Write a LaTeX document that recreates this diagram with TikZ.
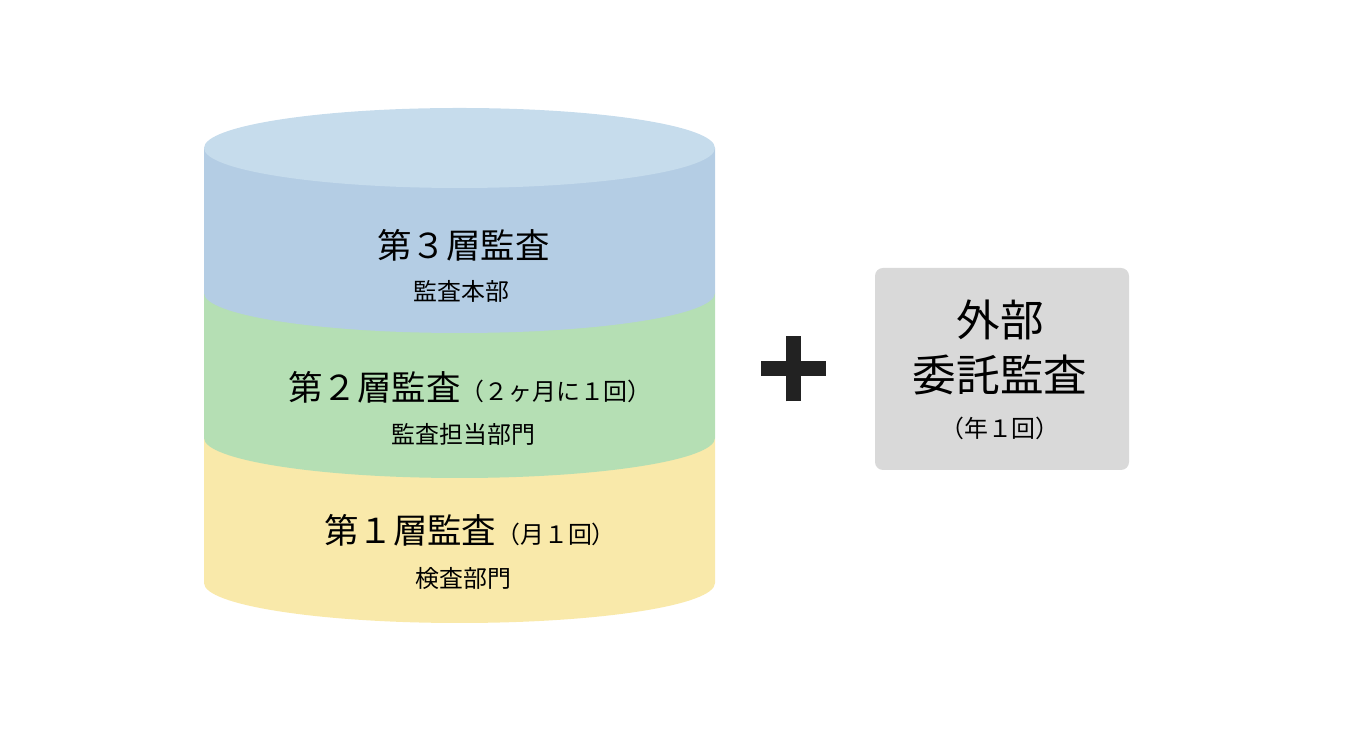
\documentclass[tikz,border=0pt]{standalone}
\usepackage{fontspec}
\setmainfont{Noto Sans CJK JP}
\usepackage{xcolor}
\usetikzlibrary{positioning}
\definecolor{topcap}{HTML}{C6DCEC}
\definecolor{layerthree}{HTML}{B4CDE4}
\definecolor{layertwo}{HTML}{B5DFB4}
\definecolor{layerone}{HTML}{F9E9AA}
\definecolor{plusdark}{HTML}{222222}
\definecolor{boxgray}{HTML}{D9D9D9}

\begin{document}
\begin{tikzpicture}[
    title/.style={font=\fontsize{19.6}{24}\selectfont, inner sep=0pt},
    sub/.style={font=\fontsize{13.6}{16}\selectfont, inner sep=0pt},
    bigtitle/.style={font=\fontsize{24.8}{30}\selectfont, inner sep=0pt},
    extbox/.style={rectangle, rounded corners=0.16cm, fill=boxgray,
                   minimum width=5.08cm, minimum height=4.04cm},
    plusbar/.style={line width=0.3cm, plusdark}
]
\useasboundingbox (0,0) rectangle (27,14.76);
\foreach \y/\c in {6.0/layerone, 8.9/layertwo, 11.8/layerthree} {
    \fill[\c] (4.08,\y) -- ++(0,-2.9)
        arc[start angle=180, end angle=360, x radius=5.11, y radius=0.8]
        -- ++(0,2.9) -- cycle;
}
\fill[topcap] (9.19,11.8) ellipse[x radius=5.11, y radius=0.8];
\node[title] (third) at (9.27,9.86) {第３層監査};
\node[sub] (thirddept) at (9.23,8.94) {監査本部};
\node[title] (second) at (9.40,7.02) {第２層監査{\fontsize{13.6}{16}\selectfont（２ヶ月に１回）}};
\node[sub] (seconddept) at (9.27,6.08) {監査担当部門};
\node[title] (first) at (9.40,4.16) {第１層監査{\fontsize{13.6}{16}\selectfont（月１回）}};
\node[sub] (firstdept) at (9.27,3.2) {検査部門};
\coordinate (plus) at (15.87,7.38);
\draw[plusbar] ([xshift=-0.65cm]plus) -- ([xshift=0.65cm]plus);
\draw[plusbar] ([yshift=-0.65cm]plus) -- ([yshift=0.65cm]plus);
\node[extbox] (ext) at (20.04,7.38) {};
\node[bigtitle] (extname) at (20.0,8.36) {外部};
\node[bigtitle] (extkind) at (20.0,7.26) {委託監査};
\node[sub] (extfreq) at (20.0,6.2) {（年１回）};
\end{tikzpicture}
\end{document}
